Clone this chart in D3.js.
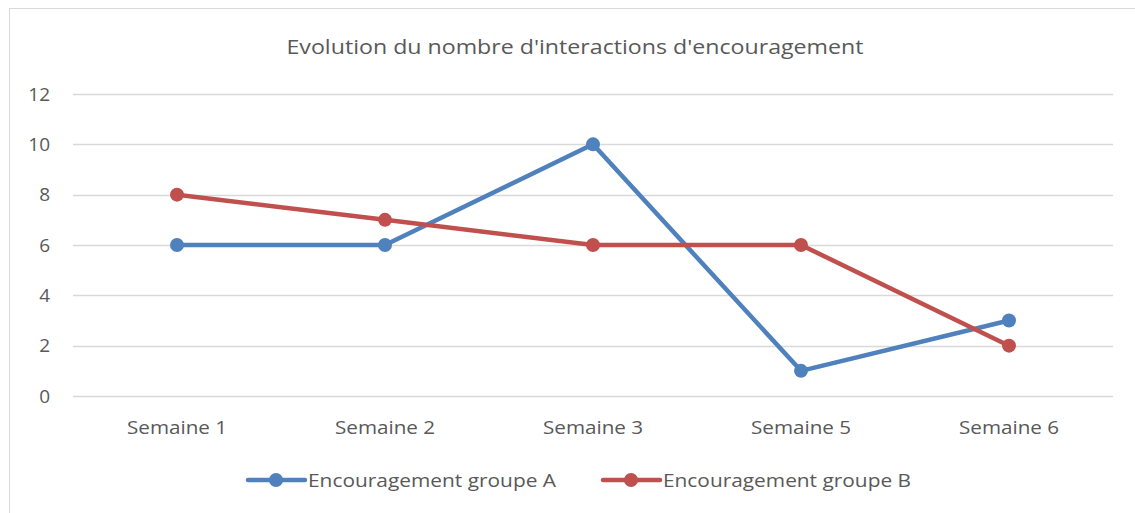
<!DOCTYPE html>
<html>
<head>
<meta charset="utf-8">
<script src="https://cdn.jsdelivr.net/npm/d3@7"></script>
<style>
  body { margin: 0; background: #fff; }
  text { font-family: "Open Sans", "Noto Sans", sans-serif; fill: #595959; }
</style>
</head>
<body>
<svg width="1135" height="513"></svg>
<script>
  // chart data
  const categories = ["Semaine 1", "Semaine 2", "Semaine 3", "Semaine 5", "Semaine 6"];
  const groupA = [6, 6, 10, 1, 3];
  const groupB = [8, 7, 6, 6, 2];
  const seriesNames = ["Encouragement groupe A", "Encouragement groupe B"];
  const yTicks = [0, 2, 4, 6, 8, 10, 12];
  const colors = ["#4f81bd", "#c0504d"];

  const svg = d3.select("svg");

  // chart border (right / bottom edges fall outside the picture)
  svg.append("rect")
    .attr("x", 9.5).attr("y", 8.5)
    .attr("width", 1140).attr("height", 520)
    .attr("fill", "none")
    .attr("stroke", "#d9d9d9");

  const plotL = 73, plotR = 1113, plotT = 94, plotB = 396;

  const x = d3.scaleBand().domain(categories).range([plotL, plotR]);
  const y = d3.scaleLinear().domain([0, 12]).range([plotB, plotT]);

  svg.append("text")
    .attr("x", 575).attr("y", 54)
    .attr("text-anchor", "middle")
    .attr("font-size", 20.5)
    .attr("textLength", 577)
    .attr("lengthAdjust", "spacingAndGlyphs")
    .text("Evolution du nombre d'interactions d'encouragement");

  // grid
  svg.append("g")
    .selectAll("line")
    .data(yTicks)
    .join("line")
    .attr("x1", plotL).attr("x2", plotR)
    .attr("y1", d => Math.round(y(d)) + 0.5)
    .attr("y2", d => Math.round(y(d)) + 0.5)
    .attr("stroke", "#d9d9d9")
    .attr("stroke-width", 1.3);

  svg.append("g")
    .selectAll("text")
    .data(yTicks)
    .join("text")
    .attr("x", 50)
    .attr("y", d => y(d) + 6.5)
    .attr("text-anchor", "end")
    .attr("font-size", 19)
    .text(d => d);

  svg.append("g")
    .selectAll("text")
    .data(categories)
    .join("text")
    .attr("x", d => x(d) + x.bandwidth() / 2)
    .attr("y", 434)
    .attr("text-anchor", "middle")
    .attr("font-size", 18)
    .attr("textLength", 100)
    .attr("lengthAdjust", "spacingAndGlyphs")
    .text(d => d);

  const line = d3.line()
    .x((d, i) => x(categories[i]) + x.bandwidth() / 2)
    .y(d => y(d));

  [groupA, groupB].forEach((vals, k) => {
    const g = svg.append("g");
    g.append("path")
      .attr("d", line(vals))
      .attr("fill", "none")
      .attr("stroke", colors[k])
      .attr("stroke-width", 4.5)
      .attr("stroke-linejoin", "round")
      .attr("stroke-linecap", "round");
    g.selectAll("circle")
      .data(vals)
      .join("circle")
      .attr("cx", (d, i) => x(categories[i]) + x.bandwidth() / 2)
      .attr("cy", d => y(d))
      .attr("r", 7)
      .attr("fill", colors[k]);
  });

  // legend
  const legendX = [248, 603];
  seriesNames.forEach((name, k) => {
    const g = svg.append("g").attr("transform", `translate(${legendX[k]},480)`);
    g.append("line")
      .attr("x1", 0).attr("x2", 57)
      .attr("stroke", colors[k])
      .attr("stroke-width", 4.5)
      .attr("stroke-linecap", "round");
    g.append("circle").attr("cx", 28).attr("r", 7).attr("fill", colors[k]);
    g.append("text")
      .attr("x", 60).attr("y", 7)
      .attr("font-size", 18.5)
      .attr("textLength", 248)
      .attr("lengthAdjust", "spacingAndGlyphs")
      .text(name);
  });
</script>
</body>
</html>
